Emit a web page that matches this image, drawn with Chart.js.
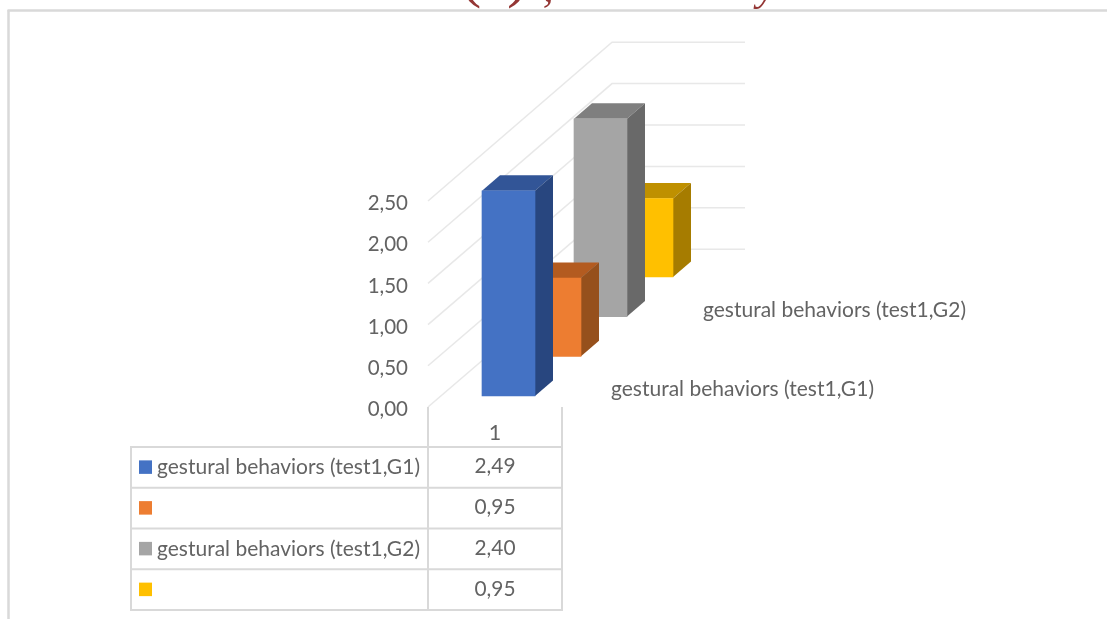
<!DOCTYPE html>
<html>
<head>
<meta charset="utf-8">
<style>
  html, body { margin: 0; padding: 0; background: #fff; overflow: hidden; }
  #wrap { width: 1107px; height: 619px; position: relative; }
</style>
<script src="https://cdn.jsdelivr.net/npm/chart.js@4"></script>
</head>
<body>
<div id="wrap"><canvas id="chart" width="1107" height="619"></canvas></div>
<script>
// Series values and labels
const categories = ['1'];
const seriesNames = ['gestural behaviors (test1,G1)', '', 'gestural behaviors (test1,G2)', ''];
const series1 = [2.49];
const series2 = [0.95];
const series3 = [2.40];
const series4 = [0.95];
const frontColors = ['#4472C4', '#ED7D31', '#A5A5A5', '#FFC000'];
const topColors = ['#325597', '#B35B20', '#7F7F7F', '#BF9000'];
const sideColors = ['#28467F', '#96501C', '#696969', '#A67C00'];

const TEXT = '#636363';
const FONT = 'Lato, Carlito, sans-serif';
const TEXT_PX = 21.5;
const TICK_PX = 20.5;
const LABEL_WIDTH = 263;

// Oblique projection: how far one series row shifts the drawing
const STEP = { x: 46, y: -39.7 };
const FIRST = { x: 13.5, y: -11 };
const BAR_DEPTH = { x: 18, y: -15.5 };
const BACK_WALL_SCALE = 1.005;

const fmt = v => Number(v).toFixed(2).replace('.', ',');

function line(ctx, x1, y1, x2, y2) {
  ctx.beginPath();
  ctx.moveTo(x1, y1);
  ctx.lineTo(x2, y2);
  ctx.stroke();
}

// Frame of the page and the heading that runs off the top edge
const framePlugin = {
  id: 'frame',
  beforeDraw(chart) {
    const ctx = chart.ctx;
    ctx.save();
    ctx.fillStyle = '#fff';
    ctx.fillRect(0, 0, chart.width, chart.height);
    ctx.strokeStyle = '#D9D9D9';
    ctx.lineWidth = 2.5;
    line(ctx, 8.5, 10, 8.5, chart.height);
    line(ctx, 7.5, 10.5, chart.width, 10.5);
    ctx.beginPath();
    ctx.rect(0, 0, chart.width, 9);
    ctx.clip();
    ctx.fillStyle = '#943634';
    ctx.textBaseline = 'alphabetic';
    ctx.textAlign = 'left';
    ctx.font = '64px "Liberation Serif", serif';
    ctx.fillText('(', 460, -5);
    ctx.fillText(')', 507, -5);
    ctx.font = 'italic 42px "Liberation Serif", serif';
    ctx.fillText(',', 543, 1);
    ctx.fillText('y', 757, 0);
    ctx.restore();
  }
};

// Receding wall lines behind the columns
const wallPlugin = {
  id: 'wall',
  beforeDatasetsDraw(chart) {
    const { ctx, chartArea, scales } = chart;
    const n = chart.data.datasets.length;
    const dx = STEP.x * n;
    const dy = STEP.y * n;
    ctx.save();
    ctx.strokeStyle = '#E8E8E8';
    ctx.lineWidth = 1.5;
    scales.y.ticks.forEach(t => {
      const p = scales.y.getPixelForValue(t.value);
      const backY = chartArea.top + dy + (p - chartArea.top) * BACK_WALL_SCALE;
      ctx.beginPath();
      ctx.moveTo(chartArea.left, p);
      ctx.lineTo(chartArea.left + dx, backY);
      ctx.lineTo(chartArea.left + dx + 133, backY);
      ctx.stroke();
    });
    ctx.restore();
  }
};

// Each column is the library's bar moved back to its own row, with top and side faces added
const depthPlugin = {
  id: 'depth',
  beforeDatasetDraw(chart, args) {
    const ctx = chart.ctx;
    const i = args.index;
    ctx.save();
    ctx.translate(FIRST.x + STEP.x * i, FIRST.y + STEP.y * i);
    chart.getDatasetMeta(i).data.forEach(bar => {
      const { x, y, base, width } = bar.getProps(['x', 'y', 'base', 'width']);
      const l = x - width / 2;
      const r = x + width / 2;
      ctx.fillStyle = topColors[i];
      ctx.beginPath();
      ctx.moveTo(l, y);
      ctx.lineTo(l + BAR_DEPTH.x, y + BAR_DEPTH.y);
      ctx.lineTo(r + BAR_DEPTH.x, y + BAR_DEPTH.y);
      ctx.lineTo(r, y);
      ctx.closePath();
      ctx.fill();
      ctx.fillStyle = sideColors[i];
      ctx.beginPath();
      ctx.moveTo(r, y);
      ctx.lineTo(r + BAR_DEPTH.x, y + BAR_DEPTH.y);
      ctx.lineTo(r + BAR_DEPTH.x, base + BAR_DEPTH.y);
      ctx.lineTo(r, base);
      ctx.closePath();
      ctx.fill();
    });
  },
  afterDatasetDraw(chart) {
    chart.ctx.restore();
  }
};

// Series-axis captions and the data table below the columns
const tablePlugin = {
  id: 'table',
  afterDraw(chart) {
    const { ctx, chartArea, scales } = chart;
    const datasets = chart.data.datasets;
    const left = chartArea.left;
    const right = chartArea.right;
    const bottom = chartArea.bottom;
    const tableLeft = left - 297;
    const rowH = 40.75;
    const top = bottom + 40;

    ctx.save();
    ctx.font = TEXT_PX + 'px ' + FONT;
    ctx.fillStyle = TEXT;
    ctx.textBaseline = 'middle';
    ctx.textAlign = 'left';
    datasets.forEach((d, i) => {
      if (d.label) {
        ctx.fillText(d.label, right + 49 + STEP.x * i, bottom - 18 + STEP.y * i, LABEL_WIDTH);
      }
    });

    ctx.strokeStyle = '#D9D9D9';
    ctx.lineWidth = 2;
    line(ctx, left, bottom, left, top + rowH * datasets.length);
    line(ctx, right, bottom, right, top + rowH * datasets.length);
    line(ctx, tableLeft, top, tableLeft, top + rowH * datasets.length);
    for (let r = 0; r <= datasets.length; r++) {
      line(ctx, tableLeft - 1, top + rowH * r, right + 1, top + rowH * r);
    }

    datasets.forEach((d, i) => {
      const cy = top + rowH * (i + 0.5);
      ctx.fillStyle = frontColors[i];
      ctx.fillRect(tableLeft + 8, cy - 7, 13, 13.5);
      ctx.fillStyle = TEXT;
      ctx.textAlign = 'left';
      if (d.label) ctx.fillText(d.label, tableLeft + 26, cy, LABEL_WIDTH);
      ctx.textAlign = 'center';
      ctx.fillText(fmt(d.data[0]), scales.x.getPixelForTick(0), cy - 1, 41);
    });
    ctx.restore();
  }
};

const valueRows = [series1, series2, series3, series4];

new Chart(document.getElementById('chart'), {
  type: 'bar',
  data: {
    labels: categories,
    datasets: valueRows.map((values, i) => ({
      label: seriesNames[i],
      data: values,
      backgroundColor: frontColors[i],
      borderWidth: 0,
      grouped: false,
      barThickness: 53,
      clip: false
    }))
  },
  plugins: [framePlugin, wallPlugin, depthPlugin, tablePlugin],
  options: {
    responsive: false,
    animation: false,
    events: [],
    layout: { padding: { left: 0, right: 545, top: 201, bottom: 172 } },
    plugins: { legend: { display: false }, tooltip: { enabled: false }, title: { display: false } },
    scales: {
      x: {
        grid: { display: false, drawTicks: false },
        border: { display: false },
        ticks: { color: TEXT, font: { family: FONT, size: TEXT_PX }, padding: 13 },
        afterFit(scale) { scale.height = 40; }
      },
      y: {
        min: 0,
        max: 2.5,
        grid: { display: false, drawTicks: false },
        border: { display: false },
        ticks: {
          stepSize: 0.5,
          color: TEXT,
          padding: 20,
          labelOffset: 2.5,
          font: { family: FONT, size: TICK_PX },
          callback: v => fmt(v)
        },
        afterFit(scale) { scale.width = 428; }
      }
    }
  }
});
</script>
</body>
</html>
